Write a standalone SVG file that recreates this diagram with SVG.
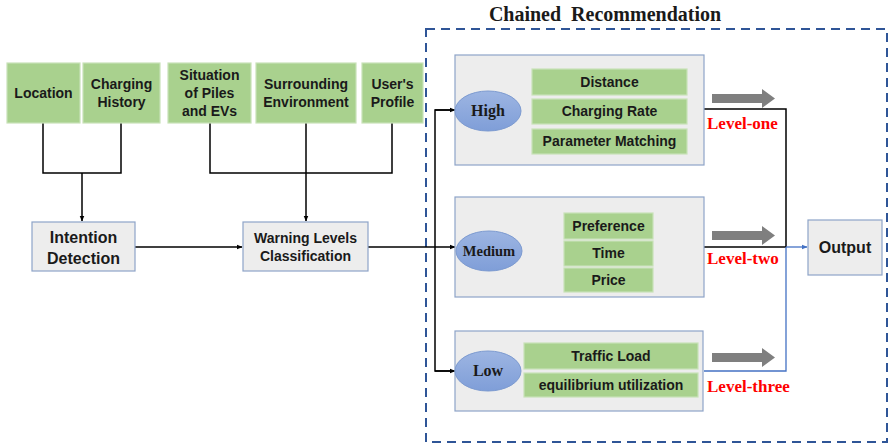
<svg xmlns="http://www.w3.org/2000/svg" width="889" height="444" viewBox="0 0 889 444">
<defs>
<linearGradient id="eg" x1="0" y1="0" x2="0" y2="1">
<stop offset="0" stop-color="#9DB5E2"/>
<stop offset="1" stop-color="#7F9ED8"/>
</linearGradient>
<marker id="ah" viewBox="0 0 10 10" refX="9" refY="5" markerWidth="6" markerHeight="6" orient="auto" markerUnits="userSpaceOnUse">
<path d="M0,1 L10,5 L0,9 z" fill="#000"/>
</marker>
<marker id="ahb" viewBox="0 0 10 10" refX="9" refY="5" markerWidth="6" markerHeight="6" orient="auto" markerUnits="userSpaceOnUse">
<path d="M0,1 L10,5 L0,9 z" fill="#4472C4"/>
</marker>
</defs>
<style>
.g{fill:#A9D18E;stroke:#C9E2B8;stroke-width:1.2}
.gr{fill:#EDEDED;stroke:#8EA4C8;stroke-width:1.2}
.e{fill:url(#eg);stroke:#7C9AD0;stroke-width:1}
.t{font-family:"Liberation Sans",Arial,sans-serif;font-weight:bold;font-size:14px;fill:#1a1a1a;text-anchor:middle}
.tb{font-family:"Liberation Sans",Arial,sans-serif;font-weight:bold;font-size:16px;fill:#1a1a1a;text-anchor:middle}
.s{font-family:"Liberation Serif","Times New Roman",serif;font-weight:bold;font-size:16px;fill:#1a1a1a;text-anchor:middle}
.r{font-family:"Liberation Serif","Times New Roman",serif;font-weight:bold;font-size:17px;fill:#FF0000}
.ln{fill:none;stroke:#000;stroke-width:1.5}
.bl{fill:none;stroke:#4472C4;stroke-width:1.3}
.ba{fill:#7F7F7F}
</style>
<rect width="889" height="444" fill="#fff"/>

<g id="chained">
<rect x="426" y="29" width="461" height="413" fill="none" stroke="#2F5597" stroke-width="2" stroke-dasharray="9,6"/>
<text x="605" y="21" class="s" style="font-size:20px" xml:space="preserve">Chained  Recommendation</text>
</g>

<g id="connectors">
<polyline class="ln" points="43,123 43,173 121,173 121,123"/>
<line class="ln" x1="82" y1="173" x2="82" y2="221" marker-end="url(#ah)"/>
<polyline class="ln" points="210,123 210,173 392,173 392,123"/>
<line class="ln" x1="306" y1="123" x2="306" y2="221" marker-end="url(#ah)"/>
<line class="ln" x1="135" y1="247" x2="242" y2="247" marker-end="url(#ah)"/>
<line class="ln" x1="368" y1="247" x2="455" y2="247" marker-end="url(#ah)"/>
<polyline class="ln" points="453,110 435,110 435,371 453,371"/>
<line class="ln" x1="435" y1="110" x2="455" y2="110" marker-end="url(#ah)"/>
<line class="ln" x1="435" y1="371" x2="455" y2="371" marker-end="url(#ah)"/>
<polyline class="ln" points="704,109 786,109 786,247"/>
<line class="ln" x1="704" y1="247" x2="786" y2="247"/>
<polyline class="bl" points="704,371 786,371 786,247"/>
<line class="bl" x1="786" y1="247" x2="807" y2="247" marker-end="url(#ahb)"/>
<path class="ba" d="M712,94 H762 V89 L775,98.5 L762,108 V103 H712 z"/>
<path class="ba" d="M712,231 H762 V226 L775,235.5 L762,245 V240 H712 z"/>
<path class="ba" d="M712,353 H762 V348 L775,357.5 L762,367 V362 H712 z"/>
</g>

<g id="location"><rect class="g" x="7" y="63" width="73" height="60"/><text class="t" x="43.5" y="98">Location</text></g>
<g id="charging-history"><rect class="g" x="83" y="63" width="77" height="60"/><text class="t" x="121.5" y="89">Charging</text><text class="t" x="121.5" y="107">History</text></g>
<g id="situation"><rect class="g" x="168" y="63" width="83" height="60"/><text class="t" x="209.5" y="80">Situation</text><text class="t" x="209.5" y="98">of Piles</text><text class="t" x="209.5" y="116">and EVs</text></g>
<g id="surrounding"><rect class="g" x="256" y="63" width="100" height="60"/><text class="t" x="306" y="89">Surrounding</text><text class="t" x="306" y="107">Environment</text></g>
<g id="users-profile"><rect class="g" x="362" y="63" width="61" height="60"/><text class="t" x="392.5" y="89">User's</text><text class="t" x="392.5" y="107">Profile</text></g>

<g id="intention"><rect class="gr" x="32" y="222" width="103" height="49"/><text class="tb" x="83.5" y="243">Intention</text><text class="tb" x="83.5" y="264">Detection</text></g>
<g id="warning"><rect class="gr" x="243" y="222" width="125" height="49"/><text class="t" x="305.5" y="243">Warning Levels</text><text class="t" x="305.5" y="261">Classification</text></g>

<g id="high">
<rect class="gr" x="455" y="55" width="249" height="110"/>
<ellipse class="e" cx="488" cy="111" rx="33" ry="20"/>
<text class="s" x="488" y="116">High</text>
<rect class="g" x="532" y="69" width="155" height="26"/><text class="t" x="609.5" y="87">Distance</text>
<rect class="g" x="532" y="99" width="155" height="25"/><text class="t" x="609.5" y="116">Charging Rate</text>
<rect class="g" x="532" y="129" width="155" height="25"/><text class="t" x="609.5" y="146">Parameter Matching</text>
</g>
<text class="r" x="707" y="129">Level-one</text>

<g id="medium">
<rect class="gr" x="455" y="197" width="249" height="100"/>
<ellipse class="e" cx="489" cy="251" rx="33" ry="20"/>
<text class="s" x="489" y="256" style="font-size:14.5px">Medium</text>
<rect class="g" x="564" y="213" width="89" height="26"/><text class="t" x="608.5" y="231">Preference</text>
<rect class="g" x="564" y="241" width="89" height="25"/><text class="t" x="608.5" y="258">Time</text>
<rect class="g" x="564" y="268" width="89" height="24"/><text class="t" x="608.5" y="285">Price</text>
</g>
<text class="r" x="707" y="264">Level-two</text>

<g id="low">
<rect class="gr" x="455" y="331" width="248" height="80"/>
<ellipse class="e" cx="488" cy="371" rx="33" ry="20"/>
<text class="s" x="488" y="376">Low</text>
<rect class="g" x="524" y="343" width="174" height="26"/><text class="t" x="611" y="361">Traffic Load</text>
<rect class="g" x="524" y="373" width="174" height="24"/><text class="t" x="611" y="390">equilibrium utilization</text>
</g>
<text class="r" x="707" y="392">Level-three</text>

<g id="output"><rect class="gr" x="808" y="220" width="74" height="55"/><text class="tb" x="845" y="253">Output</text></g>
</svg>
